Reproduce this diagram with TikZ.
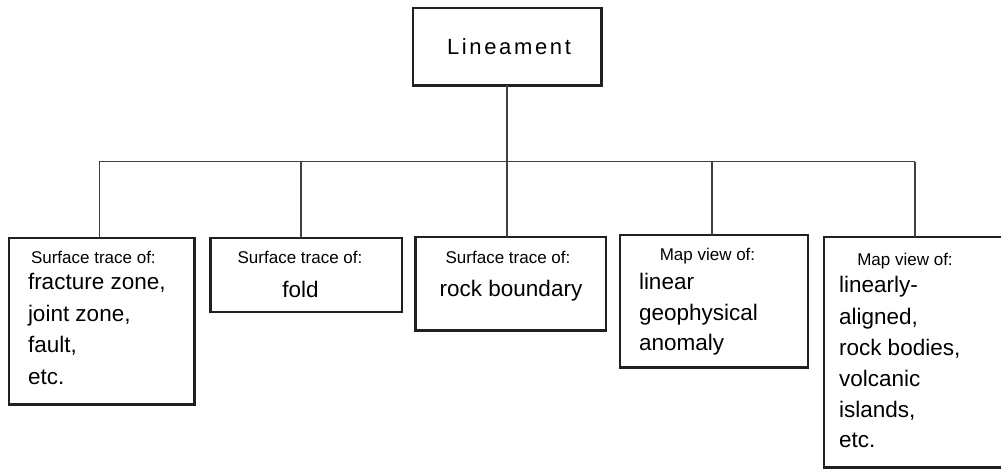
\documentclass[tikz,border=0pt]{standalone}
\usepackage{fontspec}
\setmainfont{Liberation Sans}
\definecolor{boxline}{HTML}{231F20}
\newcommand\fsmall{\fontsize{17}{20}\selectfont}
\newcommand\fbig{\fontsize{22.5}{27}\selectfont}
\begin{document}
\begin{tikzpicture}[x=1pt,y=-1pt,
  box/.style={draw=boxline, line width=2.4pt, outer sep=0pt, inner sep=0pt, fill=white},
  conn/.style={draw=black!75, line width=1.1pt},
  lab/.style={inner sep=0pt, outer sep=0pt, text=black},
  small/.style={lab, font=\fsmall, anchor=base},
  smallw/.style={lab, font=\fsmall, anchor=base west},
  big/.style={lab, font=\fbig, anchor=base west},
  bigc/.style={lab, font=\fbig, anchor=base}]
\useasboundingbox (0,0) rectangle (1001,470);
\clip (0,0) rectangle (1001,470);

% boxes
\node[box, minimum width=188.5pt, minimum height=77.5pt] (top) at (507.25,46.75) {};
\node[box, minimum width=185.9pt, minimum height=166.3pt] (b1) at (101.65,321.15) {};
\node[box, minimum width=191.4pt, minimum height=74pt] (b2) at (306,275) {};
\node[box, minimum width=190.2pt, minimum height=93pt] (b3) at (510.6,283.8) {};
\node[box, minimum width=188.1pt, minimum height=132.2pt] (b4) at (713.75,301.4) {};
\node[box, minimum width=188pt, minimum height=230.1pt] (b5) at (917.8,352.25) {};

% connectors
\coordinate (j1) at (99.3,161.7);
\coordinate (j2) at (301,161.7);
\coordinate (j3) at (507,161.7);
\coordinate (j4) at (712,161.7);
\coordinate (j5) at (915,161.7);
\draw[conn] (j1) -- (j5);
\draw[conn] (top.south -| j3) -- (j3);
\draw[conn] (j1) -- (j1 |- b1.north);
\draw[conn] (j2) -- (j2 |- b2.north);
\draw[conn] (j3) -- (j3 |- b3.north);
\draw[conn] (j4) -- (j4 |- b4.north);
\draw[conn] (j5) -- (j5 |- b5.north);

% texts
\node[lab, anchor=base, font={\fontsize{22}{26}\selectfont\addfontfeature{LetterSpace=12}}] (t0) at (509,54.3) {Lineament};

\node[smallw] (t1a) at (31,263.5) {Surface trace of:};
\node[big] (t1b) at (28,290) {fracture zone,};
\node[big] (t1c) at (28,321.5) {joint zone,};
\node[big] (t1d) at (28,352.8) {fault,};
\node[big] (t1e) at (28,384) {etc.};

\node[small] (t2a) at (300,263.5) {Surface trace of:};
\node[bigc] (t2b) at (300.5,298) {fold};

\node[small] (t3a) at (508,264) {Surface trace of:};
\node[bigc] (t3b) at (511,296.7) {rock boundary};

\node[small] (t4a) at (707.5,261) {Map view of:};
\node[big] (t4b) at (639,290) {linear};
\node[big] (t4c) at (639,320.5) {geophysical};
\node[big] (t4d) at (639,350.5) {anomaly};

\node[small] (t5a) at (905,266) {Map view of:};
\node[big] (t5b) at (839,293) {linearly-};
\node[big] (t5c) at (839,324) {aligned,};
\node[big] (t5d) at (839,355.5) {rock bodies,};
\node[big] (t5e) at (839,386) {volcanic};
\node[big] (t5f) at (839,417) {islands,};
\node[big] (t5g) at (839,447.5) {etc.};
\end{tikzpicture}
\end{document}
